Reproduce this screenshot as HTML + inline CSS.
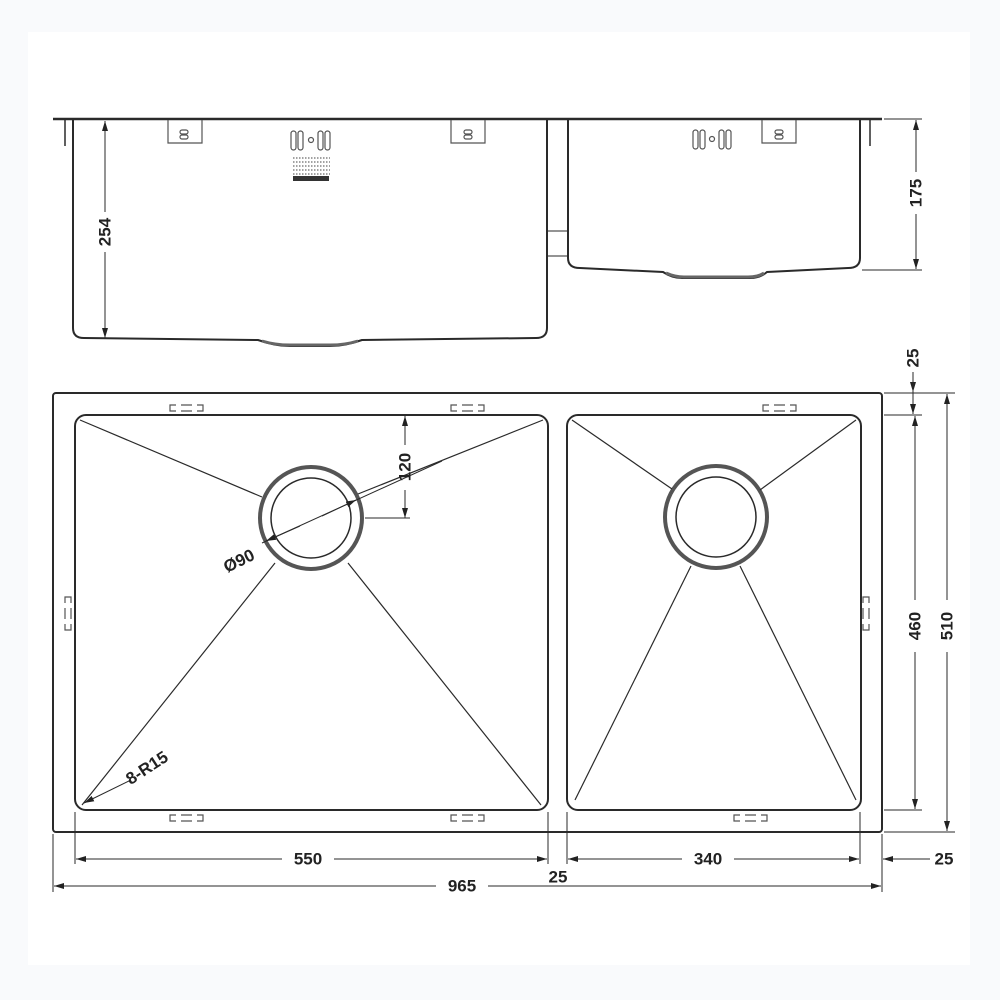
<!DOCTYPE html>
<html><head><meta charset="utf-8"><style>
html,body{margin:0;padding:0;background:#f9fafc;}
svg{display:block}
text{font-family:"Liberation Sans",sans-serif;font-weight:bold;font-size:17px;fill:#222}
</style></head><body>
<svg width="1000" height="1000" viewBox="0 0 1000 1000" xmlns="http://www.w3.org/2000/svg">
<defs>
<marker id="a" viewBox="0 0 10 6" refX="10" refY="3" markerWidth="10" markerHeight="6" orient="auto-start-reverse" markerUnits="userSpaceOnUse"><path d="M0,0 L10,3 L0,6z" fill="#222"/></marker>
</defs>
<rect x="28" y="32" width="942" height="933" fill="#fff"/>
<g fill="none" stroke="#2a2a2a">
<line x1="53" y1="119" x2="882" y2="119" stroke-width="2.5"/>
<line x1="65" y1="120" x2="65" y2="146" stroke-width="1.5"/>
<line x1="870" y1="120" x2="870" y2="146" stroke-width="1.5"/>
<path d="M73,120 V328 Q73,338 84,338 L258,340 Q275,346 290,346 H330 Q345,346 362,340 L536,338 Q547,338 547,328 V120" stroke-width="2"/>
<path d="M262,341 Q275,345 290,345 H330 Q345,345 358,341" stroke="#666" stroke-width="3"/>
<path d="M568,120 V258 Q568,268 580,268 L663,272 Q672,278 682,278 H750 Q760,278 767,272 L848,268 Q860,268 860,258 V120" stroke-width="2"/>
<path d="M666,273 Q675,277 684,277 H748 Q758,277 764,273" stroke="#666" stroke-width="3"/>
<line x1="548" y1="231" x2="568" y2="231" stroke-width="1"/>
<line x1="548" y1="256" x2="568" y2="256" stroke-width="1"/>
<g stroke="#555" stroke-width="1.2">
<path d="M168,120 V143 H202 V120"/><path d="M451,120 V143 H485 V120"/><path d="M762,120 V143 H796 V120"/>
<rect x="180" y="130" width="8" height="4" rx="2"/><rect x="180" y="135" width="8" height="4" rx="2"/>
<rect x="464" y="130" width="8" height="4" rx="2"/><rect x="464" y="135" width="8" height="4" rx="2"/>
<rect x="775" y="130" width="8" height="4" rx="2"/><rect x="775" y="135" width="8" height="4" rx="2"/>
<rect x="291" y="131" width="5" height="19" rx="2.5"/><rect x="298" y="131" width="5" height="19" rx="2.5"/><circle cx="311" cy="140" r="2.5"/><rect x="318" y="131" width="5" height="19" rx="2.5"/><rect x="325" y="131" width="5" height="19" rx="2.5"/>
<rect x="693" y="130" width="5" height="19" rx="2.5"/><rect x="700" y="130" width="5" height="19" rx="2.5"/><circle cx="712" cy="139" r="2.5"/><rect x="719" y="130" width="5" height="19" rx="2.5"/><rect x="726" y="130" width="5" height="19" rx="2.5"/>
</g>
<g stroke="#444" stroke-width="1" stroke-dasharray="1.5,1.5">
<line x1="293" y1="158" x2="330" y2="158"/><line x1="293" y1="162" x2="330" y2="162"/><line x1="293" y1="166" x2="330" y2="166"/><line x1="293" y1="170" x2="330" y2="170"/><line x1="293" y1="174" x2="330" y2="174"/>
</g>
<rect x="293" y="176" width="36" height="5" fill="#333" stroke="none"/>
<g stroke-width="1">
<line x1="105" y1="121" x2="105" y2="212" marker-start="url(#a)"/>
<line x1="105" y1="252" x2="105" y2="338" marker-end="url(#a)"/>
<line x1="884" y1="119" x2="922" y2="119"/><line x1="862" y1="270" x2="922" y2="270"/>
<line x1="916" y1="120" x2="916" y2="172" marker-start="url(#a)"/>
<line x1="916" y1="214" x2="916" y2="269" marker-end="url(#a)"/>
</g>
<rect x="53" y="393" width="829" height="439" rx="3" stroke-width="2"/>
<rect x="75" y="415" width="473" height="395" rx="11" stroke-width="2"/>
<rect x="567" y="415" width="294" height="395" rx="11" stroke-width="2"/>
<circle cx="311" cy="518" r="51" stroke-width="4" stroke="#555"/>
<circle cx="311" cy="518" r="40" stroke-width="1.5"/>
<circle cx="716" cy="517" r="51" stroke-width="4" stroke="#555"/>
<circle cx="716" cy="517" r="40" stroke-width="1.5"/>
<g stroke-width="1.2">
<line x1="80" y1="420" x2="262" y2="497"/><line x1="543" y1="420" x2="358" y2="494"/>
<line x1="82" y1="805" x2="275" y2="563"/><line x1="541" y1="805" x2="348" y2="563"/>
<line x1="572" y1="420" x2="672" y2="489"/><line x1="856" y1="420" x2="760" y2="490"/>
<line x1="575" y1="800" x2="691" y2="566"/><line x1="856" y1="800" x2="740" y2="566"/>
</g>
<g stroke="#555" stroke-width="1.2">
<path d="M176,405 H170 V411 H176 M181,405 H192 M181,411 H192 M197,405 H203 V411 H197"/>
<path d="M457,405 H451 V411 H457 M462,405 H473 M462,411 H473 M478,405 H484 V411 H478"/>
<path d="M769,405 H763 V411 H769 M774,405 H785 M774,411 H785 M790,405 H796 V411 H790"/>
<path d="M176,815 H170 V821 H176 M181,815 H192 M181,821 H192 M197,815 H203 V821 H197"/>
<path d="M457,815 H451 V821 H457 M462,815 H473 M462,821 H473 M478,815 H484 V821 H478"/>
<path d="M740,815 H734 V821 H740 M745,815 H756 M745,821 H756 M761,815 H767 V821 H761"/>
<path d="M65,603 V597 H71 V603 M65,608 V619 M71,608 V619 M65,624 V630 H71 V624"/>
<path d="M863,603 V597 H869 V603 M863,608 V619 M869,608 V619 M863,624 V630 H869 V624"/>
</g>
<g stroke-width="1">
<line x1="405" y1="416" x2="405" y2="445" marker-start="url(#a)"/>
<line x1="405" y1="490" x2="405" y2="518" marker-end="url(#a)"/>
<line x1="365" y1="518" x2="410" y2="518"/>
<line x1="262" y1="543" x2="442" y2="461"/>
<line x1="300" y1="526" x2="266" y2="541" marker-end="url(#a)"/>
<line x1="322" y1="516" x2="356" y2="500" marker-end="url(#a)"/>
<line x1="131" y1="780" x2="84" y2="803" marker-end="url(#a)"/>
<line x1="884" y1="393" x2="955" y2="393"/>
<line x1="884" y1="415" x2="922" y2="415"/>
<line x1="884" y1="810" x2="922" y2="810"/>
<line x1="884" y1="832" x2="955" y2="832"/>
<line x1="913" y1="372" x2="913" y2="392" marker-end="url(#a)"/>
<line x1="913" y1="380" x2="913" y2="414" marker-end="url(#a)"/>
<line x1="915" y1="416" x2="915" y2="600" marker-start="url(#a)"/>
<line x1="915" y1="652" x2="915" y2="809" marker-end="url(#a)"/>
<line x1="947" y1="394" x2="947" y2="600" marker-start="url(#a)"/>
<line x1="947" y1="652" x2="947" y2="831" marker-end="url(#a)"/>
<line x1="53" y1="834" x2="53" y2="892"/>
<line x1="75" y1="812" x2="75" y2="864"/>
<line x1="548" y1="812" x2="548" y2="864"/>
<line x1="567" y1="812" x2="567" y2="864"/>
<line x1="860" y1="812" x2="860" y2="864"/>
<line x1="882" y1="834" x2="882" y2="892"/>
<line x1="76" y1="859" x2="282" y2="859" marker-start="url(#a)"/>
<line x1="334" y1="859" x2="547" y2="859" marker-end="url(#a)"/>
<line x1="568" y1="859" x2="682" y2="859" marker-start="url(#a)"/>
<line x1="734" y1="859" x2="859" y2="859" marker-end="url(#a)"/>
<line x1="930" y1="859" x2="883" y2="859" marker-end="url(#a)"/>
<line x1="54" y1="886" x2="436" y2="886" marker-start="url(#a)"/>
<line x1="488" y1="886" x2="881" y2="886" marker-end="url(#a)"/>
</g>
</g>
<text x="105" y="232" transform="rotate(-90 105 232)" text-anchor="middle" dominant-baseline="central">254</text>
<text x="916" y="193" transform="rotate(-90 916 193)" text-anchor="middle" dominant-baseline="central">175</text>
<text x="913" y="358" transform="rotate(-90 913 358)" text-anchor="middle" dominant-baseline="central">25</text>
<text x="915" y="626" transform="rotate(-90 915 626)" text-anchor="middle" dominant-baseline="central">460</text>
<text x="947" y="626" transform="rotate(-90 947 626)" text-anchor="middle" dominant-baseline="central">510</text>
<text x="405" y="467" transform="rotate(-90 405 467)" text-anchor="middle" dominant-baseline="central">120</text>
<text x="239" y="561" transform="rotate(-26 239 561)" text-anchor="middle" dominant-baseline="central">Ø90</text>
<text x="147" y="768" transform="rotate(-33 147 768)" text-anchor="middle" dominant-baseline="central">8-R15</text>
<text x="308" y="859" text-anchor="middle" dominant-baseline="central">550</text>
<text x="708" y="859" text-anchor="middle" dominant-baseline="central">340</text>
<text x="944" y="859" text-anchor="middle" dominant-baseline="central">25</text>
<text x="558" y="877" text-anchor="middle" dominant-baseline="central">25</text>
<text x="462" y="886" text-anchor="middle" dominant-baseline="central">965</text>
</svg>
</body></html>
